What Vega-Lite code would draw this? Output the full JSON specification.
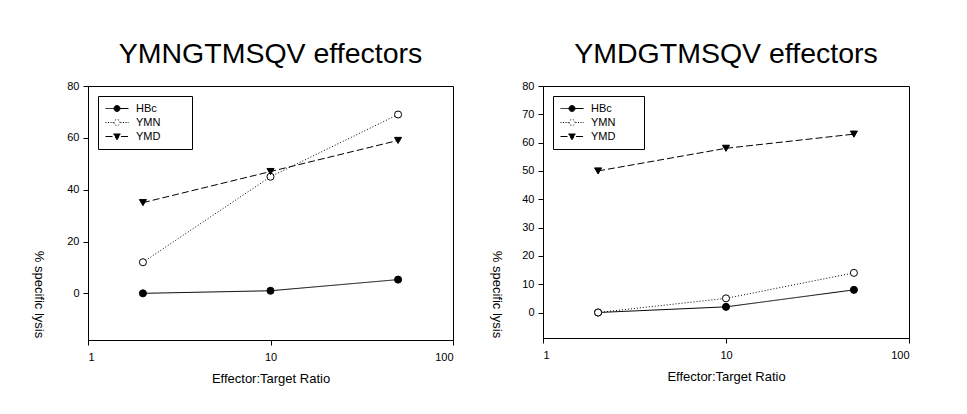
{
  "$schema": "https://vega.github.io/schema/vega-lite/v6.json",
  "background": "white",
  "padding": {"left": 30, "top": 39, "right": 5, "bottom": 5},
  "spacing": 34,
  "config": {
    "font": "Liberation Sans",
    "view": {"stroke": "black", "strokeWidth": 1},
    "axis": {
      "grid": false,
      "domainColor": "black",
      "tickColor": "black",
      "tickSize": 5,
      "labelFont": "Liberation Sans",
      "labelFontSize": 11,
      "labelColor": "black",
      "titleFont": "Liberation Sans",
      "titleFontSize": 13,
      "titleFontWeight": "normal",
      "titleColor": "black"
    },
    "title": {"font": "Liberation Sans", "fontSize": 28.5, "fontWeight": "normal", "color": "black", "anchor": "middle", "baseline": "alphabetic", "offset": 12},
    "legend": {
      "orient": "top-left",
      "offset": 10,
      "strokeColor": "black",
      "padding": 7,
      "symbolSize": 100,
      "labelFont": "Liberation Sans",
      "labelFontSize": 11,
      "labelColor": "black",
      "labelOffset": 20,
      "rowPadding": 2,
      "symbolStrokeWidth": 1,
      "symbolStrokeColor": "black"
    }
  },
  "datasets": {
    "ymn": [
      {"series": "HBc", "ratio": 2, "lysis": 0},
      {"series": "HBc", "ratio": 10, "lysis": 1},
      {"series": "HBc", "ratio": 50, "lysis": 5.3},
      {"series": "YMN", "ratio": 2, "lysis": 12},
      {"series": "YMN", "ratio": 10, "lysis": 45},
      {"series": "YMN", "ratio": 50, "lysis": 69},
      {"series": "YMD", "ratio": 2, "lysis": 35},
      {"series": "YMD", "ratio": 10, "lysis": 47},
      {"series": "YMD", "ratio": 50, "lysis": 59}
    ],
    "ymd": [
      {"series": "HBc", "ratio": 2, "lysis": 0},
      {"series": "HBc", "ratio": 10, "lysis": 2},
      {"series": "HBc", "ratio": 50, "lysis": 8},
      {"series": "YMN", "ratio": 2, "lysis": 0},
      {"series": "YMN", "ratio": 10, "lysis": 5},
      {"series": "YMN", "ratio": 50, "lysis": 14},
      {"series": "YMD", "ratio": 2, "lysis": 50},
      {"series": "YMD", "ratio": 10, "lysis": 58},
      {"series": "YMD", "ratio": 50, "lysis": 63}
    ]
  },
  "resolve": {
    "scale": {"x": "independent", "y": "independent", "strokeDash": "independent"},
    "legend": {"strokeDash": "independent"}
  },
  "hconcat": [
    {
      "title": "YMNGTMSQV effectors",
      "width": 365,
      "height": 254,
      "data": {"name": "ymn"},
      "encoding": {
        "x": {"field": "ratio", "type": "quantitative", "scale": {"type": "log", "domain": [1, 100], "nice": false},
              "axis": {"title": "Effector:Target Ratio", "values": [1, 10, 100], "format": "d", "labelPadding": 6, "titlePadding": 10}},
        "y": {"field": "lysis", "type": "quantitative", "scale": {"domain": [-18, 80], "nice": false, "zero": false},
              "axis": {"title": "% specific lysis", "values": [0, 20, 40, 60, 80], "labelPadding": 4, "titleAngle": 90, "titleAlign": "center", "titleBaseline": "middle", "titleX": -50, "titleY": 208}}
      },
      "layer": [
        {
          "mark": {"type": "line", "color": "black", "strokeWidth": 1},
          "encoding": {
            "strokeDash": {"field": "series", "type": "nominal",
              "scale": {"domain": ["HBc", "YMN", "YMD"], "range": [[1, 0], [1, 2], [7, 3]]},
              "legend": {"title": null, "labelExpr": "datum.label + '\u00a0\u00a0\u00a0\u00a0\u00a0\u00a0\u00a0\u00a0\u200b'",
                "encode": {"symbols": {"update": {
                  "shape": {"signal": "datum.value == 'HBc' ? 'M-1,0L0.7,0M1.9,0L3.6,0M0.7,0A0.6,0.6 0 1,0 1.9,0A0.6,0.6 0 1,0 0.7,0Z' : datum.value == 'YMN' ? 'M-1,0L-0.8,0M-0.5,0L-0.3,0M0,0L0.2,0M0.45,0L0.6,0M2,0L2.2,0M2.5,0L2.7,0M3,0L3.2,0M3.45,0L3.6,0M0.7,0A0.6,0.6 0 1,0 1.9,0A0.6,0.6 0 1,0 0.7,0Z' : 'M-1,0L0.5,0M2.1,0L3.6,0M0.6,-0.5L2,-0.5L1.3,0.65Z'"},
                  "fill": {"signal": "datum.value == 'YMN' ? 'white' : 'black'"},
                  "stroke": {"value": "black"},
                  "strokeDash": {"value": [1, 0]},
                  "opacity": {"value": 1}
                }}}}
            }
          }
        },
        {
          "transform": [{"filter": "datum.series == 'HBc'"}],
          "mark": {"type": "point", "shape": "circle", "filled": true, "fill": "black", "stroke": "black", "strokeWidth": 1, "size": 50, "opacity": 1}
        },
        {
          "transform": [{"filter": "datum.series == 'YMN'"}],
          "mark": {"type": "point", "shape": "circle", "filled": true, "fill": "white", "stroke": "black", "strokeWidth": 1, "size": 50, "opacity": 1}
        },
        {
          "transform": [{"filter": "datum.series == 'YMD'"}],
          "mark": {"type": "point", "shape": "triangle-down", "filled": true, "fill": "black", "stroke": "black", "strokeWidth": 1, "size": 50, "opacity": 1}
        }
      ]
    },
    {
      "title": "YMDGTMSQV effectors",
      "width": 366,
      "height": 252,
      "data": {"name": "ymd"},
      "encoding": {
        "x": {"field": "ratio", "type": "quantitative", "scale": {"type": "log", "domain": [1, 100], "nice": false},
              "axis": {"title": "Effector:Target Ratio", "values": [1, 10, 100], "format": "d", "labelPadding": 6, "titlePadding": 10}},
        "y": {"field": "lysis", "type": "quantitative", "scale": {"domain": [-9, 80], "nice": false, "zero": false},
              "axis": {"title": "% specific lysis", "values": [0, 10, 20, 30, 40, 50, 60, 70, 80], "labelPadding": 4, "titleAngle": 90, "titleAlign": "center", "titleBaseline": "middle", "titleX": -47, "titleY": 208}}
      },
      "layer": [
        {
          "mark": {"type": "line", "color": "black", "strokeWidth": 1},
          "encoding": {
            "strokeDash": {"field": "series", "type": "nominal",
              "scale": {"domain": ["HBc", "YMN", "YMD"], "range": [[1, 0], [1, 2], [7, 3]]},
              "legend": {"title": null, "labelExpr": "datum.label + '\u00a0\u00a0\u00a0\u00a0\u00a0\u00a0\u00a0\u200b'",
                "encode": {"symbols": {"update": {
                  "shape": {"signal": "datum.value == 'HBc' ? 'M-1,0L0.7,0M1.9,0L3.6,0M0.7,0A0.6,0.6 0 1,0 1.9,0A0.6,0.6 0 1,0 0.7,0Z' : datum.value == 'YMN' ? 'M-1,0L-0.8,0M-0.5,0L-0.3,0M0,0L0.2,0M0.45,0L0.6,0M2,0L2.2,0M2.5,0L2.7,0M3,0L3.2,0M3.45,0L3.6,0M0.7,0A0.6,0.6 0 1,0 1.9,0A0.6,0.6 0 1,0 0.7,0Z' : 'M-1,0L0.5,0M2.1,0L3.6,0M0.6,-0.5L2,-0.5L1.3,0.65Z'"},
                  "fill": {"signal": "datum.value == 'YMN' ? 'white' : 'black'"},
                  "stroke": {"value": "black"},
                  "strokeDash": {"value": [1, 0]},
                  "opacity": {"value": 1}
                }}}}
            }
          }
        },
        {
          "transform": [{"filter": "datum.series == 'HBc'"}],
          "mark": {"type": "point", "shape": "circle", "filled": true, "fill": "black", "stroke": "black", "strokeWidth": 1, "size": 50, "opacity": 1}
        },
        {
          "transform": [{"filter": "datum.series == 'YMN'"}],
          "mark": {"type": "point", "shape": "circle", "filled": true, "fill": "white", "stroke": "black", "strokeWidth": 1, "size": 50, "opacity": 1}
        },
        {
          "transform": [{"filter": "datum.series == 'YMD'"}],
          "mark": {"type": "point", "shape": "triangle-down", "filled": true, "fill": "black", "stroke": "black", "strokeWidth": 1, "size": 50, "opacity": 1}
        }
      ]
    }
  ]
}
